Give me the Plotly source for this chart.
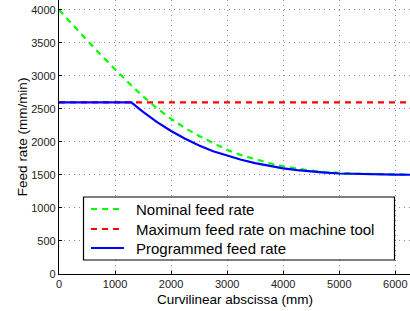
import plotly.graph_objects as go

x_nominal = [0, 250, 500, 750, 1000, 1250, 1500, 1750, 2000, 2250, 2500, 2750, 3000, 3250, 3500,
             3750, 4000, 4250, 4500, 4750, 5000, 5250, 5500, 5750, 6000, 6262]
y_nominal = [4000, 3765, 3540, 3315, 3100, 2890, 2690, 2510, 2350, 2210, 2090, 1980, 1880, 1800, 1735,
             1680, 1630, 1595, 1565, 1545, 1530, 1521, 1515, 1511, 1508, 1505]

x_max = [0, 6262]
y_max = [2600, 2600]

x_prog = [0, 1290, 1400, 1500, 1750, 2000, 2250, 2500, 2750, 3000, 3250, 3500, 3750, 4000,
          4250, 4500, 4750, 5000, 5250, 5500, 6000, 6262]
y_prog = [2600, 2600, 2525, 2455, 2300, 2167, 2050, 1945, 1860, 1790, 1730, 1680, 1637, 1600,
          1572, 1550, 1534, 1522, 1515, 1510, 1505, 1503]

x_ticks = [0, 1000, 2000, 3000, 4000, 5000, 6000]
y_ticks = [0, 500, 1000, 1500, 2000, 2500, 3000, 3500, 4000]

series_names = ["Nominal feed rate", "Maximum feed rate on machine tool", "Programmed feed rate"]
series_colors = ["#00ff00", "#ff0000", "#0000ff"]
series_dash = ["6px,5px", "6px,5px", "solid"]

FONT = "Liberation Sans, Arial, Helvetica"

fig = go.Figure()
for (xs, ys), name, col, dsh in zip([(x_nominal, y_nominal), (x_max, y_max), (x_prog, y_prog)],
                                    series_names, series_colors, series_dash):
    fig.add_trace(go.Scatter(x=xs, y=ys, mode="lines", name=name,
                             line=dict(color=col, width=2.2, dash=dsh)))

axis_common = dict(
    showgrid=True, gridcolor="#8a8a8a", griddash="1px,4px", gridwidth=1,
    showline=True, linecolor="black", linewidth=1.2,
    ticks="inside", ticklen=3, tickcolor="black",
    zeroline=False, mirror=False, automargin=False,
    tickfont=dict(family=FONT, size=11, color="#222"),
)

# plot area: x 59..410 px (351 px), y 0..274 px (274 px)
def px_x(p):
    return (p - 59) / 351.0

def px_y(p):
    return (274 - p) / 274.0

shapes = [dict(type="rect", xref="paper", yref="paper",
               x0=px_x(83.5), x1=px_x(394.5), y0=px_y(260), y1=px_y(197),
               fillcolor="white", line=dict(color="black", width=1.2), layer="above")]
annotations = [
    dict(text="Curvilinear abscissa (mm)", xref="paper", yref="paper",
         x=0.5, y=-0.093, xanchor="center", yanchor="middle", showarrow=False,
         font=dict(family=FONT, size=13.5, color="black")),
    dict(text="Feed rate (mm/min)", xref="paper", yref="paper",
         x=-0.105, y=0.5, xanchor="center", yanchor="middle", showarrow=False,
         textangle=-90, font=dict(family=FONT, size=13.5, color="black")),
]
row_y = [209, 229, 248]
for ry, name, col, dsh in zip(row_y, series_names, series_colors, series_dash):
    shapes.append(dict(type="line", xref="paper", yref="paper",
                       x0=px_x(91), x1=px_x(124), y0=px_y(ry), y1=px_y(ry),
                       line=dict(color=col, width=2.2, dash=dsh), layer="above"))
    annotations.append(dict(text=name, xref="paper", yref="paper",
                            x=px_x(134), y=px_y(ry), xanchor="left", yanchor="middle",
                            showarrow=False, font=dict(family=FONT, size=15, color="black")))

fig.update_layout(
    width=410, height=311,
    margin=dict(l=59, r=0, t=0, b=37),
    plot_bgcolor="white", paper_bgcolor="white",
    showlegend=False,
    xaxis=dict(range=[0, 6262], tickvals=x_ticks, **axis_common),
    yaxis=dict(range=[0, 4150], tickvals=y_ticks, **axis_common),
    shapes=shapes,
    annotations=annotations,
)

fig.write_html("out.html", config={"displayModeBar": False},
               post_script="document.body.style.margin='0';document.body.style.padding='0';document.body.style.overflow='hidden';")
